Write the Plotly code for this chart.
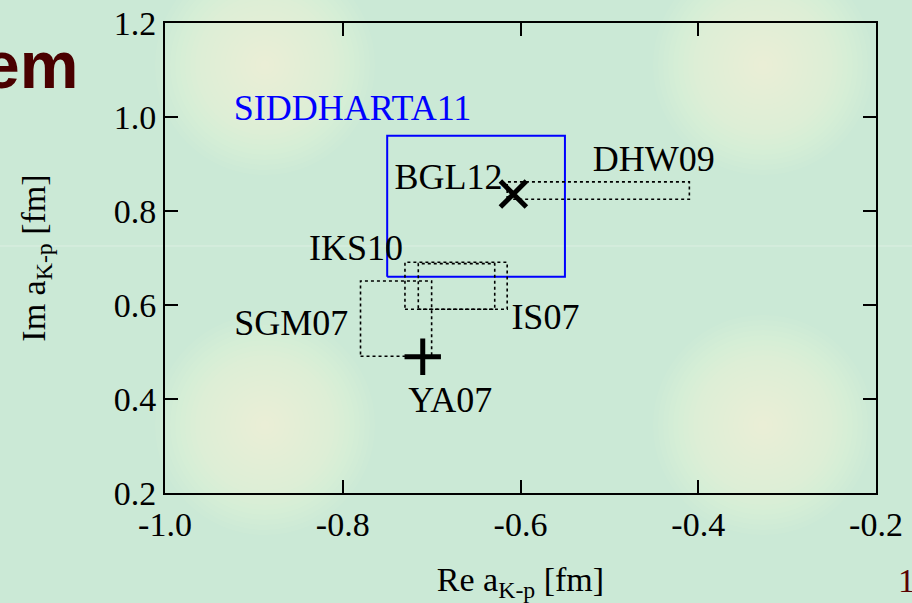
import plotly.graph_objects as go

# ---------------- data ----------------
x_ticks = [-1.0, -0.8, -0.6, -0.4, -0.2]
x_tick_text = ["-1.0", "-0.8", "-0.6", "-0.4", "-0.2"]
y_ticks = [0.2, 0.4, 0.6, 0.8, 1.0, 1.2]
y_tick_text = ["0.2", "0.4", "0.6", "0.8", "1.0", "1.2"]

# SIDDHARTA11 measurement: central value and errors
sid_re, sid_re_err = -0.65, 0.10
sid_im, sid_im_err = 0.81, 0.15

# theory ranges (dotted boxes)
box_names = ["DHW09", "IKS10", "IS07", "SGM07"]
box_re_lo = [-0.615, -0.730, -0.715, -0.780]
box_re_hi = [-0.410, -0.615, -0.629, -0.700]
box_im_lo = [0.825, 0.591, 0.591, 0.491]
box_im_hi = [0.862, 0.691, 0.688, 0.651]

# point predictions
pt_names = ["BGL12", "YA07"]
pt_re = [-0.608, -0.710]
pt_im = [0.836, 0.490]
pt_symbols = ["x-thin", "cross-thin"]

# label positions
lab_names = ["SIDDHARTA11", "BGL12", "DHW09", "IKS10", "IS07", "SGM07", "YA07"]
lab_re = [-0.789, -0.681, -0.450, -0.785, -0.572, -0.858, -0.679]
lab_im = [1.012, 0.865, 0.904, 0.714, 0.569, 0.556, 0.392]
lab_colors = ["#0000ff", "black", "black", "black", "black", "black", "black"]

# ---------------- figure ----------------
W, H = 912, 603
ML, MR, MT, MB = 165, 36, 23, 110
PW, PH = W - ML - MR, H - MT - MB
SERIF = "Liberation Serif, Times New Roman, serif"

fig = go.Figure()

# SIDDHARTA box
fig.add_trace(go.Scatter(
    x=[sid_re - sid_re_err, sid_re + sid_re_err, sid_re + sid_re_err, sid_re - sid_re_err, sid_re - sid_re_err],
    y=[sid_im - sid_im_err, sid_im - sid_im_err, sid_im + sid_im_err, sid_im + sid_im_err, sid_im - sid_im_err],
    mode="lines", name="SIDDHARTA11", line=dict(color="#0000ff", width=2), showlegend=False))

for n, a, b, c, d in zip(box_names, box_re_lo, box_re_hi, box_im_lo, box_im_hi):
    fig.add_trace(go.Scatter(
        x=[a, b, b, a, a], y=[c, c, d, d, c], mode="lines", name=n,
        line=dict(color="black", width=1.6, dash="3px,3px"), showlegend=False))

for n, xr, yi, s in zip(pt_names, pt_re, pt_im, pt_symbols):
    fig.add_trace(go.Scatter(
        x=[xr], y=[yi], mode="markers", name=n, showlegend=False,
        marker=dict(symbol=s, size=26, color="black", line=dict(color="black", width=5))))

fig.add_trace(go.Scatter(
    x=lab_re, y=lab_im, text=lab_names, mode="text", showlegend=False,
    textfont=dict(family=SERIF, size=36, color=lab_colors)))

# background blobs (slide decoration)
shapes = []
bg_centers = [(265, 65), (763, 65), (265, 425), (763, 425)]
for cx, cy in bg_centers:
    for r in range(110, 3, -5):
        x0 = (cx - r - ML) / PW
        x1 = (cx + r - ML) / PW
        y0 = (H - MB - (cy + r)) / PH
        y1 = (H - MB - (cy - r)) / PH
        shapes.append(dict(type="circle", xref="paper", yref="paper", x0=x0, x1=x1, y0=y0, y1=y1,
                           fillcolor="#f6f8d2", opacity=0.055, line=dict(width=0), layer="below"))
shapes.append(dict(type="line", xref="paper", yref="paper", x0=-ML / PW, x1=1 + MR / PW,
                   y0=(H - MB - 246) / PH, y1=(H - MB - 246) / PH,
                   line=dict(color="#dcefe2", width=1), layer="below"))

axis_common = dict(showline=True, linecolor="black", linewidth=2, mirror="ticks",
                   ticks="inside", ticklen=13, tickwidth=2, tickcolor="black",
                   showgrid=False, zeroline=False, automargin=False,
                   tickfont=dict(family=SERIF, size=34, color="black"))

fig.update_layout(
    width=W, height=H,
    margin=dict(l=ML, r=MR, t=MT, b=MB, pad=0, autoexpand=False),
    paper_bgcolor="#cbe9d6", plot_bgcolor="rgba(0,0,0,0)",
    shapes=shapes,
    xaxis=dict(range=[-1.0, -0.2], tickvals=x_ticks, ticktext=x_tick_text,
               title=dict(text="Re a<sub>K-p</sub> [fm]", standoff=25,
                          font=dict(family=SERIF, size=34, color="black")),
               **axis_common),
    yaxis=dict(range=[0.2, 1.2], tickvals=y_ticks, ticktext=y_tick_text,
               title=dict(text="Im a<sub>K-p</sub> [fm]", standoff=58,
                          font=dict(family=SERIF, size=34, color="black")),
               **axis_common),
    annotations=[
        dict(text="<b>em</b>", xref="paper", yref="paper", x=(80 - ML) / PW, y=(H - MB - 104) / PH,
             xanchor="right", yanchor="bottom", showarrow=False,
             font=dict(family="Liberation Sans, Arial, sans-serif", size=66, color="#4a0000")),
        dict(text="1", xref="paper", yref="paper", x=(896 - ML) / PW, y=(H - MB - 580) / PH,
             xanchor="left", yanchor="middle", showarrow=False,
             font=dict(family=SERIF, size=34, color="#5a0000")),
    ],
)

fig.write_html("out.html", config={"displayModeBar": False},
               post_script="document.body.style.margin='0';document.body.style.overflow='hidden';")
